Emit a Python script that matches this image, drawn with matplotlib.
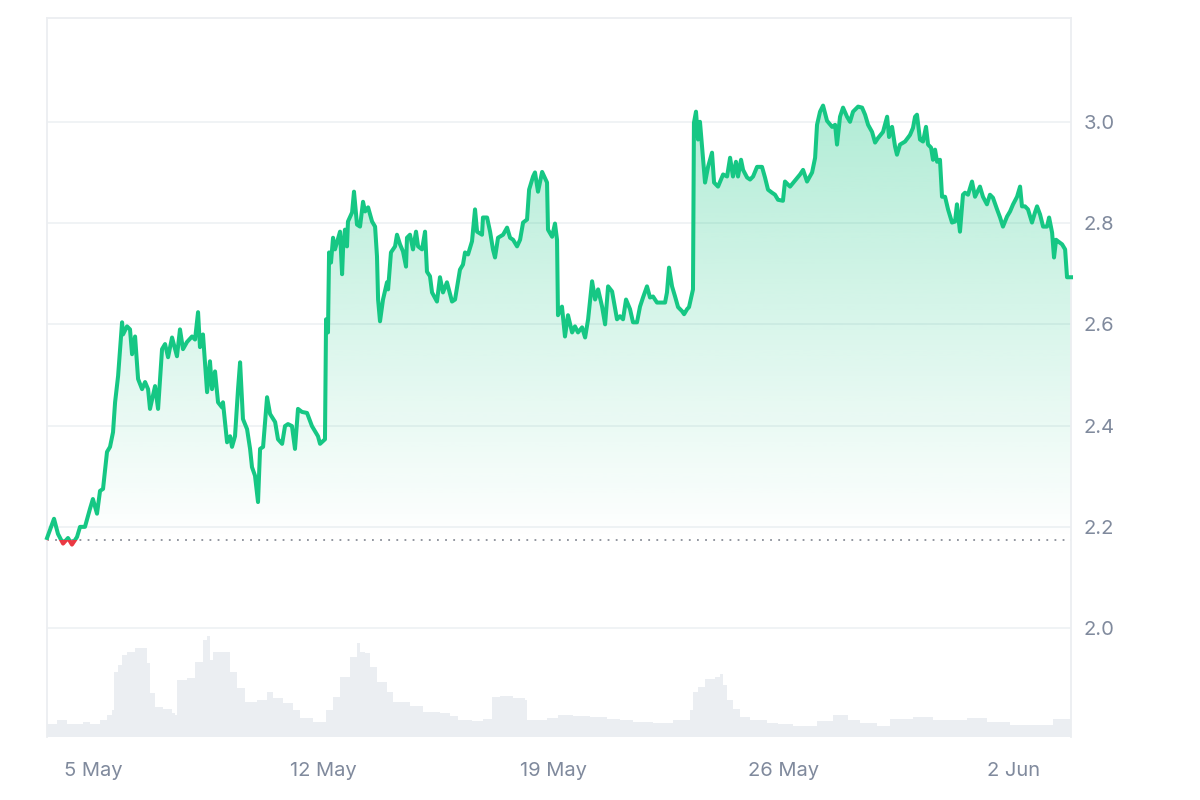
import numpy as np
import pandas as pd
import matplotlib
matplotlib.use("Agg")
import matplotlib.pyplot as plt
import matplotlib.dates as mdates
from matplotlib.colors import to_rgb
from matplotlib.patches import Rectangle

plt.rcParams['font.family'] = ['Inter', 'DejaVu Sans']

START = pd.Timestamp("2024-05-03")

# price series, hours since 3 May 00:00
horas_precio = [
    14.4, 19.5, 22.4, 26.1, 29.7, 32.6, 36.3, 38.5, 42.1, 45.8, 47.9, 50.9, 53.1, 55.3, 58.2,
    60.4, 62.6, 64.1, 66.3, 69.2, 69.9, 72.8, 75.0, 76.5, 78.7, 80.9, 83.8, 86.0, 88.2, 89.6,
    93.3, 95.5, 98.4, 100.6, 102.8, 105.7, 109.3, 111.5, 113.7, 116.6, 120.3, 122.5, 124.7,
    126.1, 128.3, 131.3, 133.4, 134.9, 137.1, 139.3, 142.2, 142.9, 145.9, 148.1, 149.5, 151.7,
    153.9, 155.4, 157.5, 160.5, 162.7, 164.1, 166.3, 168.5, 170.0, 172.2, 175.1, 177.3, 181.0,
    183.1, 186.1, 188.2, 190.4, 193.3, 195.5, 197.7, 200.6, 204.3, 207.9, 212.3, 213.8, 217.4,
    218.2, 219.6, 220.4, 221.8, 223.3, 224.7, 226.2, 228.4, 229.9, 230.6, 232.0, 233.5, 234.2,
    237.2, 238.6, 240.8, 243.0, 245.2, 246.7, 248.9, 251.8, 254.0, 255.4, 256.2, 257.6, 259.8,
    262.7, 263.5, 265.6, 268.6, 270.0, 272.2, 274.4, 276.6, 277.3, 279.5, 281.7, 283.9, 285.4,
    288.3, 290.5, 291.9, 294.1, 295.6, 299.2, 301.4, 303.6, 306.5, 310.2, 312.4, 316.0, 318.2,
    319.7, 321.9, 324.8, 327.0, 328.5, 332.1, 332.8, 335.8, 338.0, 340.1, 341.6, 343.8, 347.5,
    350.4, 352.6, 354.8, 357.7, 359.9, 362.1, 365.0, 366.5, 369.4, 370.8, 373.0, 376.0, 379.6,
    380.3, 383.3, 385.4, 386.9, 387.6, 390.5, 392.7, 394.9, 397.9, 400.0, 402.2, 405.2, 407.4,
    409.6, 412.5, 414.7, 416.9, 419.8, 422.0, 424.2, 427.1, 430.7, 432.9, 435.1, 437.3, 440.2,
    442.4, 445.3, 447.5, 449.7, 452.6, 454.8, 457.0, 459.9, 462.1, 465.8, 467.2, 468.7, 470.9,
    473.1, 475.3, 478.2, 479.7, 481.9, 483.3, 486.2, 486.9, 488.4, 489.9, 491.3, 492.8, 495.0,
    497.2, 500.1, 501.6, 504.5, 508.2, 511.1, 513.3, 515.4, 517.6, 519.1, 521.3, 522.8, 525.7,
    527.9, 530.1, 533.0, 536.6, 538.8, 541.0, 543.9, 546.1, 548.3, 551.9, 553.4, 557.1, 560.7,
    564.4, 566.6, 569.5, 573.2, 575.4, 576.8, 579.0, 581.2, 584.1, 587.8, 590.0, 591.4, 593.6,
    595.8, 598.7, 600.9, 603.1, 606.8, 609.7, 611.9, 614.1, 617.0, 619.2, 621.4, 625.0, 628.0,
    629.4, 631.6, 633.8, 635.2, 637.4, 641.1, 644.7, 646.9, 648.4, 649.8, 652.0, 654.2, 656.4,
    657.9, 660.1, 661.5, 663.0, 664.5, 666.6, 668.1, 670.3, 672.5, 675.4, 677.6, 679.0, 681.2,
    683.4, 684.9, 687.1, 690.0, 692.2, 695.8, 698.0, 700.9, 703.1, 705.3, 708.3, 710.5, 712.6,
    715.6, 717.8, 720.0, 722.9, 725.1, 726.5, 728.7, 730.9, 733.8, 736.0, 737.5, 739.7, 741.9,
    744.8, 746.3, 748.5, 749.9, 751.4, 752.8, 755.8, 758.0, 759.4, 762.3,
]
precio = [
    2.178, 2.216, 2.186, 2.167, 2.178, 2.165, 2.180, 2.200, 2.200, 2.236, 2.255, 2.226, 2.271, 2.275, 2.348,
    2.358, 2.387, 2.446, 2.498, 2.604, 2.580, 2.596, 2.590, 2.541, 2.576, 2.492, 2.472, 2.486, 2.472, 2.433,
    2.478, 2.433, 2.551, 2.561, 2.535, 2.574, 2.537, 2.590, 2.551, 2.565, 2.576, 2.570, 2.624,
    2.555, 2.580, 2.466, 2.527, 2.472, 2.507, 2.446, 2.436, 2.446, 2.367, 2.379, 2.358, 2.379,
    2.472, 2.525, 2.413, 2.393, 2.354, 2.318, 2.301, 2.249, 2.354, 2.358, 2.456, 2.423, 2.407,
    2.373, 2.364, 2.399, 2.403, 2.399, 2.354, 2.433, 2.427, 2.425, 2.399, 2.379, 2.364, 2.373,
    2.610, 2.584, 2.742, 2.722, 2.771, 2.748, 2.762, 2.783, 2.699, 2.748, 2.787, 2.754, 2.803,
    2.821, 2.862, 2.797, 2.793, 2.842, 2.823, 2.831, 2.803, 2.793, 2.734, 2.649, 2.606, 2.649,
    2.683, 2.669, 2.742, 2.754, 2.777, 2.758, 2.744, 2.714, 2.771, 2.777, 2.748, 2.783, 2.754,
    2.748, 2.783, 2.704, 2.695, 2.663, 2.645, 2.693, 2.663, 2.683, 2.645, 2.649, 2.708, 2.718,
    2.742, 2.738, 2.764, 2.827, 2.783, 2.777, 2.811, 2.811, 2.783, 2.748, 2.732, 2.771, 2.777,
    2.791, 2.771, 2.767, 2.754, 2.767, 2.801, 2.807, 2.866, 2.892, 2.900, 2.862, 2.901, 2.880,
    2.787, 2.773, 2.799, 2.767, 2.618, 2.635, 2.576, 2.618, 2.584, 2.596, 2.584, 2.594, 2.574,
    2.610, 2.685, 2.649, 2.669, 2.635, 2.600, 2.675, 2.665, 2.610, 2.616, 2.610, 2.649, 2.630,
    2.604, 2.604, 2.635, 2.653, 2.675, 2.653, 2.655, 2.643, 2.643, 2.643, 2.663, 2.712, 2.675,
    2.655, 2.634, 2.626, 2.620, 2.630, 2.634, 2.669, 2.998, 3.020, 2.965, 3.000, 2.951, 2.880,
    2.911, 2.939, 2.880, 2.872, 2.896, 2.892, 2.929, 2.892, 2.921, 2.892, 2.925, 2.905, 2.890,
    2.886, 2.892, 2.911, 2.911, 2.890, 2.866, 2.860, 2.856, 2.846, 2.844, 2.882, 2.872, 2.884,
    2.896, 2.905, 2.882, 2.900, 2.929, 2.994, 3.020, 3.032, 3.002, 2.990, 2.994, 2.955, 3.010,
    3.028, 3.010, 3.000, 3.020, 3.030, 3.028, 3.014, 2.994, 2.980, 2.959, 2.968, 2.980, 3.010,
    2.970, 2.990, 2.951, 2.935, 2.955, 2.961, 2.974, 2.988, 3.010, 3.014, 2.965, 2.961, 2.990,
    2.955, 2.949, 2.925, 2.945, 2.921, 2.925, 2.852, 2.852, 2.827, 2.801, 2.803, 2.837, 2.783,
    2.856, 2.860, 2.856, 2.882, 2.852, 2.872, 2.852, 2.837, 2.856, 2.850, 2.827, 2.811, 2.793,
    2.813, 2.823, 2.837, 2.852, 2.872, 2.833, 2.833, 2.827, 2.801, 2.821, 2.833, 2.817, 2.793,
    2.793, 2.811, 2.781, 2.732, 2.767, 2.764, 2.758, 2.748, 2.693, 2.693,
]

# volume series (relative), hours since 3 May 00:00
horas_volumen = [
    14.4, 21.7, 28.9, 38.5, 40.7, 45.8, 49.4, 53.1, 58.2, 61.9, 63.3, 66.3, 69.2, 72.8, 78.7,
    84.5, 87.4, 89.6, 93.3, 99.1, 105.7, 107.9, 109.3, 116.6, 122.5, 128.3, 131.3, 133.4, 135.6,
    144.4, 148.1, 153.2, 159.0, 167.8, 175.1, 179.5, 186.8, 194.1, 199.2, 208.7, 216.0, 218.2,
    223.3, 228.4, 235.7, 240.8, 243.0, 246.7, 250.3, 255.4, 262.7, 267.1, 275.9, 279.5, 284.6,
    289.0, 301.4, 308.7, 314.6, 324.8, 332.8, 337.9, 339.4, 345.3, 354.8, 363.5, 365.0, 379.6,
    387.6, 398.6, 411.0, 423.4, 432.9, 442.4, 457.0, 467.2, 471.6, 481.9, 484.0, 486.2, 489.9,
    495.0, 502.3, 505.9, 508.2, 511.1, 515.4, 520.6, 527.9, 540.3, 548.3, 559.3, 576.8, 588.5,
    599.5, 608.3, 620.6, 630.1, 646.9, 661.5, 676.1, 686.4, 700.9, 717.8, 739.7, 749.2, 762.3,
]
volumen = [
    13, 17, 13, 13, 15, 13, 13, 17, 22, 27, 65, 72, 82, 85, 89,
    89, 74, 44, 30, 28, 24, 22, 57, 59, 75, 97, 101, 77, 85,
    85, 65, 49, 35, 37, 45, 39, 34, 27, 19, 15, 15, 27,
    40, 60, 80, 94, 85, 84, 70, 55, 45, 35, 35, 31, 31,
    25, 24, 21, 17, 16, 18, 18, 40, 41, 39, 37, 17, 19,
    22, 21, 20, 18, 17, 15, 14, 14, 17, 17, 27, 45, 50,
    58, 60, 63, 52, 37, 28, 20, 17, 14, 13, 11, 16, 22,
    17, 14, 11, 18, 20, 17, 17, 19, 15, 12, 12, 18, 20,
]

precio_apertura = 2.175
ticks_y = [2.0, 2.2, 2.4, 2.6, 2.8, 3.0]
fechas_ticks = ["2024-05-05", "2024-05-12", "2024-05-19", "2024-05-26", "2024-06-02"]

VERDE = "#16c784"
ROJO = "#ea3943"
GRIS_TEXTO = "#808a9d"
GRIS_LINEA = "#eff2f5"

t = mdates.date2num(START + pd.to_timedelta(horas_precio, unit="h"))
tv = mdates.date2num(START + pd.to_timedelta(horas_volumen, unit="h"))
p = np.array(precio)

fig = plt.figure(figsize=(12, 8), dpi=100)
ax = fig.add_axes([0.0392, 0.07875, 0.8533, 0.89875])
ax_vol = ax.twinx()
ax.set_zorder(ax_vol.get_zorder() + 1)
ax.patch.set_visible(False)

# volume in the background
ax_vol.fill_between(tv, volumen, 0, step="post", color="#ebeef2", linewidth=0)
ax_vol.set_ylim(0, max(volumen) * 7.1)
ax_vol.set_yticks([])
for s in ax_vol.spines.values():
    s.set_visible(False)

x0, x1 = t[0], t[-1]
y_min, y_max = 1.785, 3.205

# gradient fill under the line
grad = np.zeros((256, 1, 4))
grad[..., :3] = to_rgb(VERDE)
grad[..., 3] = np.linspace(0.0, 0.34, 256).reshape(-1, 1)
im = ax.imshow(grad, extent=[x0, x1, precio_apertura, 3.05], origin="lower",
               aspect="auto", zorder=1, interpolation="bicubic")
relleno = ax.fill_between(t, p, precio_apertura, color="none", linewidth=0)
im.set_clip_path(relleno.get_paths()[0], transform=ax.transData)

# line, green above open price, red below
for color, y_lo, y_hi in [(VERDE, precio_apertura, y_max), (ROJO, y_min, precio_apertura)]:
    linea, = ax.plot(t, p, color=color, lw=2.9, zorder=3, solid_joinstyle="round")
    clip = Rectangle((x0 - 5, y_lo), x1 - x0 + 10, y_hi - y_lo, transform=ax.transData)
    linea.set_clip_path(clip)

ax.axhline(precio_apertura, color="#8a8f99", lw=1.3, ls=(0, (1, 3.5)), zorder=2)

ax.set_xlim(x0, x1)
ax.set_ylim(y_min, y_max)
ax.set_yticks(ticks_y)
ax.yaxis.set_major_formatter(plt.FormatStrFormatter("%.1f"))
ax.yaxis.tick_right()
ax.set_xticks(mdates.date2num(pd.to_datetime(fechas_ticks)))
ax.set_xticklabels([pd.Timestamp(f).strftime("%-d %b") for f in fechas_ticks])
ax.tick_params(axis="y", length=0, pad=9, labelsize=14.5, labelcolor=GRIS_TEXTO)
ax.tick_params(axis="x", length=0, pad=18, labelsize=14.5, labelcolor=GRIS_TEXTO)
ax.grid(axis="y", color=GRIS_LINEA, lw=1.3, zorder=0)
ax.set_axisbelow(True)

for lado in ["top", "left", "right"]:
    ax.spines[lado].set_color("#eceef1")
    ax.spines[lado].set_linewidth(1.3)
ax.spines["bottom"].set_visible(False)

fig.savefig("out.png", dpi=100, facecolor="white")
